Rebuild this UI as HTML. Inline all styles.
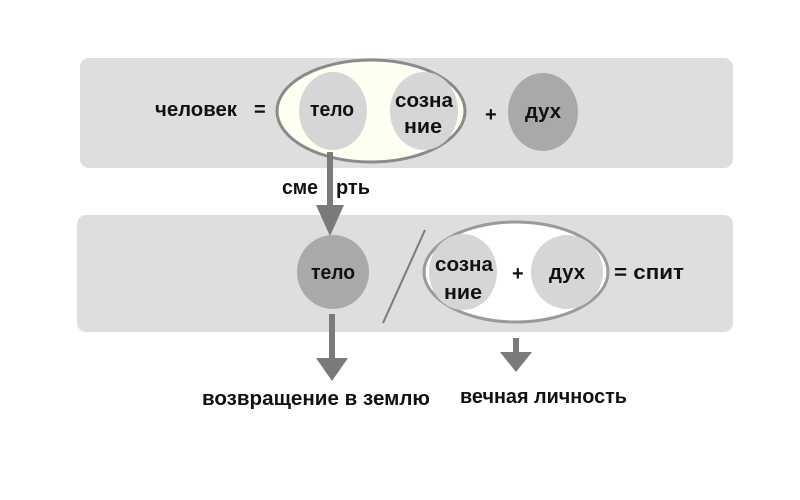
<!DOCTYPE html>
<html><head><meta charset="utf-8"><style>
html,body{margin:0;padding:0;background:#fff;width:800px;height:500px;overflow:hidden}
text{font-family:"Liberation Sans Narrow","Liberation Sans",sans-serif;font-weight:bold;fill:#111;font-size:20px}
</style></head><body>
<svg width="800" height="500" viewBox="0 0 800 500" xmlns="http://www.w3.org/2000/svg">
<rect x="80" y="58" width="653" height="110" rx="9" fill="#dedede"/>
<rect x="77" y="215" width="656" height="117" rx="9" fill="#dedede"/>
<ellipse cx="371" cy="111" rx="94" ry="51" fill="#fffff2" stroke="#8a8a8a" stroke-width="3"/>
<ellipse cx="333" cy="111" rx="34" ry="39" fill="#d6d6d6"/>
<ellipse cx="424" cy="111" rx="34" ry="39" fill="#d6d6d6"/>
<ellipse cx="543" cy="112" rx="35" ry="39" fill="#a9a9a9"/>
<text x="155" y="116" textLength="82" lengthAdjust="spacingAndGlyphs">человек</text>
<text x="254" y="116">=</text>
<text x="310" y="116" textLength="44" lengthAdjust="spacingAndGlyphs">тело</text>
<text x="395" y="107" textLength="58" lengthAdjust="spacingAndGlyphs">созна</text>
<text x="404" y="133" textLength="38" lengthAdjust="spacingAndGlyphs">ние</text>
<text x="485" y="121">+</text>
<text x="525" y="118" textLength="36" lengthAdjust="spacingAndGlyphs">дух</text>
<rect x="327" y="152" width="6" height="55" fill="#7a7a7a"/>
<polygon points="316,205 344,205 330,236" fill="#7a7a7a"/>
<text x="282" y="194" textLength="36" lengthAdjust="spacingAndGlyphs">сме</text>
<text x="336" y="194" textLength="34" lengthAdjust="spacingAndGlyphs">рть</text>
<ellipse cx="333" cy="272" rx="36" ry="37" fill="#a9a9a9"/>
<text x="311" y="279" textLength="44" lengthAdjust="spacingAndGlyphs">тело</text>
<line x1="425" y1="230" x2="383" y2="323" stroke="#7a7a7a" stroke-width="2"/>
<ellipse cx="516" cy="272" rx="92" ry="50" fill="#fff" stroke="#9a9a9a" stroke-width="3"/>
<ellipse cx="463" cy="272" rx="34" ry="38" fill="#d6d6d6"/>
<ellipse cx="567" cy="272" rx="36" ry="37" fill="#d6d6d6"/>
<text x="435" y="271" textLength="58" lengthAdjust="spacingAndGlyphs">созна</text>
<text x="444" y="299" textLength="38" lengthAdjust="spacingAndGlyphs">ние</text>
<text x="512" y="280">+</text>
<text x="549" y="279" textLength="36" lengthAdjust="spacingAndGlyphs">дух</text>
<text x="614" y="279" textLength="70" lengthAdjust="spacingAndGlyphs">=  спит</text>
<rect x="329" y="314" width="6" height="48" fill="#7a7a7a"/>
<polygon points="316,358 348,358 332,381" fill="#7a7a7a"/>
<rect x="513" y="338" width="6" height="16" fill="#7a7a7a"/>
<polygon points="500,352 532,352 516,372" fill="#7a7a7a"/>
<text x="202" y="405" textLength="228" lengthAdjust="spacingAndGlyphs">возвращение в землю</text>
<text x="460" y="403" textLength="167" lengthAdjust="spacingAndGlyphs">вечная личность</text>
</svg>
</body></html>
